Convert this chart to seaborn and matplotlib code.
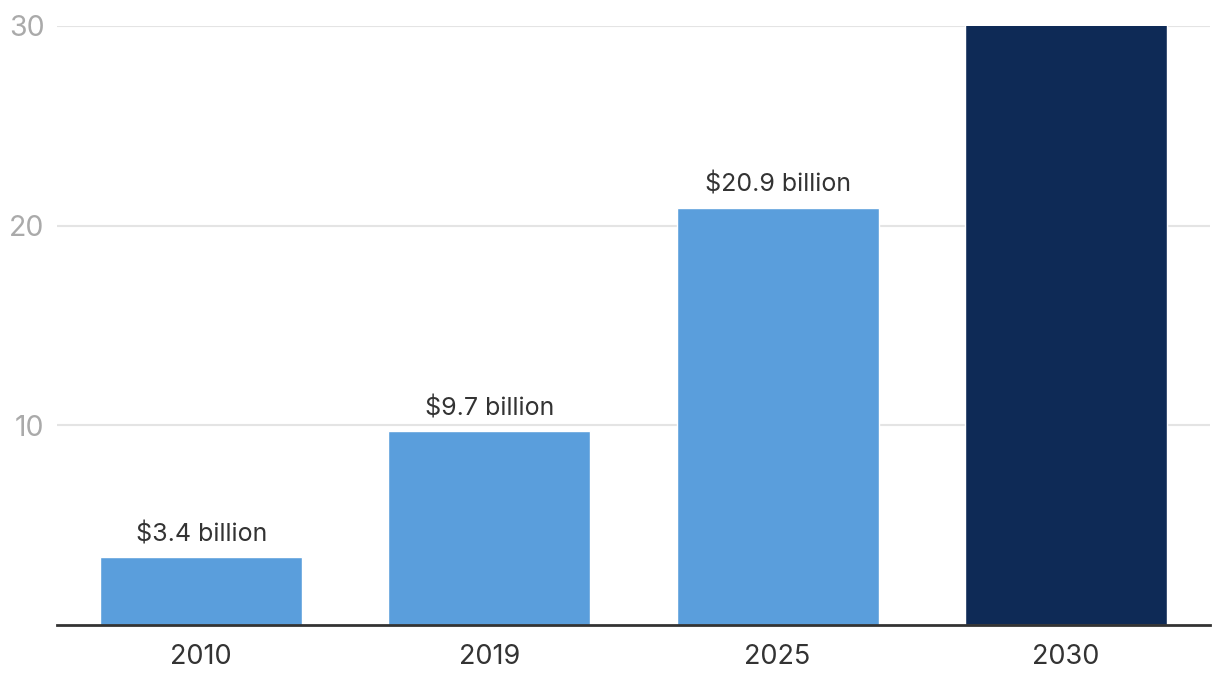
import matplotlib
matplotlib.use("Agg")
import pandas as pd
import seaborn as sns
import matplotlib.pyplot as plt

# values in billions of dollars; the 2030 bar runs off the top of the chart
years = ["2010", "2019", "2025", "2030"]
values = [3.4, 9.7, 20.9, 38.0]
labels = ["$3.4 billion", "$9.7 billion", "$20.9 billion", "$38 billion"]
colors = ["#5a9edc", "#5a9edc", "#5a9edc", "#0e2a56"]

df = pd.DataFrame({"year": years, "value": values})

sns.set_style("white")
plt.rcParams["font.family"] = ["Inter", "DejaVu Sans"]

fig = plt.figure(figsize=(12.2, 6.9), dpi=100)
ax = fig.add_axes([57 / 1220, 65 / 690, 1153 / 1220, 599 / 690])

sns.barplot(data=df, x="year", y="value", hue="year", palette=colors,
            width=0.7, saturation=1, legend=False, ax=ax, zorder=2)

ax.set_ylim(0, 30)
ax.set_xlim(-0.5, 3.5)
ax.set_yticks([10, 20, 30])
ax.yaxis.grid(True, color="#e4e4e4", linewidth=1.5, zorder=0)
ax.set_axisbelow(True)

for s in ["top", "right", "left"]:
    ax.spines[s].set_visible(False)
ax.spines["bottom"].set_color("#333333")
ax.spines["bottom"].set_linewidth(2)

ax.tick_params(axis="x", length=0, labelsize=19.5, labelcolor="#333333", pad=14)
ax.tick_params(axis="y", length=0, labelsize=20.5, labelcolor="#aaaaaa", pad=9)
ax.set_xlabel("")
ax.set_ylabel("")

# value labels above the bars (clipped by the axes like the original)
for i, v in enumerate(values):
    ax.annotate(labels[i], (i, v), xytext=(0, 8), textcoords="offset points",
                ha="center", va="bottom", fontsize=18, color="#333333",
                annotation_clip=True, clip_on=True)

fig.savefig("out.png", dpi=100)
